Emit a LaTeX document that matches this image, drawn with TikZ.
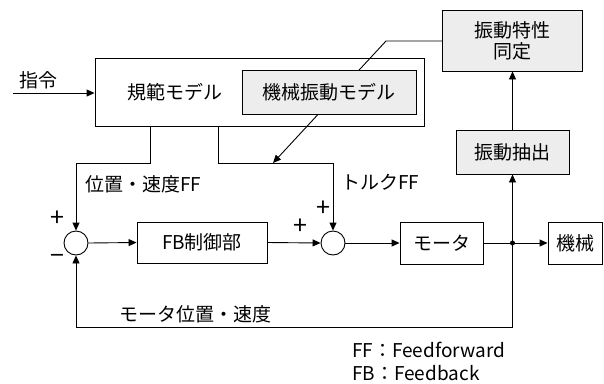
\documentclass[tikz,border=0pt]{standalone}
\usepackage{fontspec}
\newfontfamily\jp{Noto Sans CJK JP}
\usetikzlibrary{arrows.meta,calc}
\begin{document}
\begin{tikzpicture}[x=1pt,y=-1pt,
  every node/.style={font=\jp\fontsize{19}{22}\selectfont, inner sep=0pt},
  box/.style={draw, line width=0.9pt, rectangle},
  shade/.style={box, fill=black!7},
  sumc/.style={draw, line width=0.9pt, circle, minimum size=24pt, fill=white},
  ln/.style={line width=0.9pt},
  arr/.style={ln, -{Triangle[length=8pt,width=7pt]}},
  lbl/.style={font=\jp\fontsize{19}{22}\selectfont},
  sign/.style={font=\jp\fontsize{25}{28}\selectfont}
]
\useasboundingbox (0,0) rectangle (604,383);
% blocks
\node[box, minimum width=329pt, minimum height=68pt] (model) at (259.5,92) {};
\node[lbl] (modeltxt) at (175,92) {規範モデル};
\node[shade, minimum width=140pt, minimum height=61pt, align=center] (ident) at (512.5,40.5) {振動特性\\[-1pt]同定};
\coordinate (bend) at (386,41);
\coordinate (tq) at (273,163);
\draw[arr] (ident.west |- bend) -- (bend) -- (tq);
\node[shade, minimum width=174pt, minimum height=44pt] (vmodel) at (329,92) {機械振動モデル};
\node[shade, minimum width=113pt, minimum height=44pt] (extract) at (512.5,152) {振動抽出};
\node[sumc] (s1) at (76,243) {};
\node[box, minimum width=130pt, minimum height=41pt] (fb) at (202,242.5) {FB制御部};
\node[sumc] (s2) at (333,243) {};
\node[box, minimum width=83pt, minimum height=42pt] (motor) at (441.5,243) {モータ};
\node[box, minimum width=54pt, minimum height=42pt] (mach) at (575,243) {機械};
\node[circle, fill=black, minimum size=5pt] (jn) at (512.5,243) {};
% input
\coordinate (in) at (13,93);
\node[lbl] (cmd) at (38,80) {指令};
\draw[arr] (in) -- (in -| model.west);
% feedforward lines
\coordinate (p1) at (150,163);
\coordinate (p2) at (218,163);
\draw[arr] (p1 |- model.south) -- (p1) -- (p1 -| s1) -- (s1.north);
\draw[arr] (p2 |- model.south) -- (p2) -- (p2 -| s2) -- (s2.north);
% main path
\draw[arr] (s1.east) -- (fb.west);
\draw[arr] (fb.east) -- (s2.west);
\draw[arr] (s2.east) -- (motor.west);
\draw[ln] (motor.east) -- (jn.center);
\draw[arr] (jn.center) -- (mach.west);
\draw[arr] (jn.center) -- (extract.south);
\draw[arr] (extract.north) -- (ident.south);
% feedback
\coordinate (fbb) at (512.5,327);
\draw[arr] (jn.center) -- (fbb) -- (fbb -| s1) -- (s1.south);
% labels
\node[lbl, anchor=west] (l1) at (85,184) {位置・速度FF};
\node[lbl, anchor=west] (l2) at (341,182) {トルクFF};
\node[sign] (pl1) at (57,219) {+};
\node[sign] (mi1) at (57,259) {−};
\node[sign] (pl2) at (323,209) {+};
\node[sign] (pl3) at (300,227) {+};
\node[lbl] (l3) at (195,314) {モータ位置・速度};
\node[lbl, anchor=west] (l4) at (352,350) {FF：Feedforward};
\node[lbl, anchor=west] (l5) at (352,373) {FB：Feedback};
\end{tikzpicture}
\end{document}
